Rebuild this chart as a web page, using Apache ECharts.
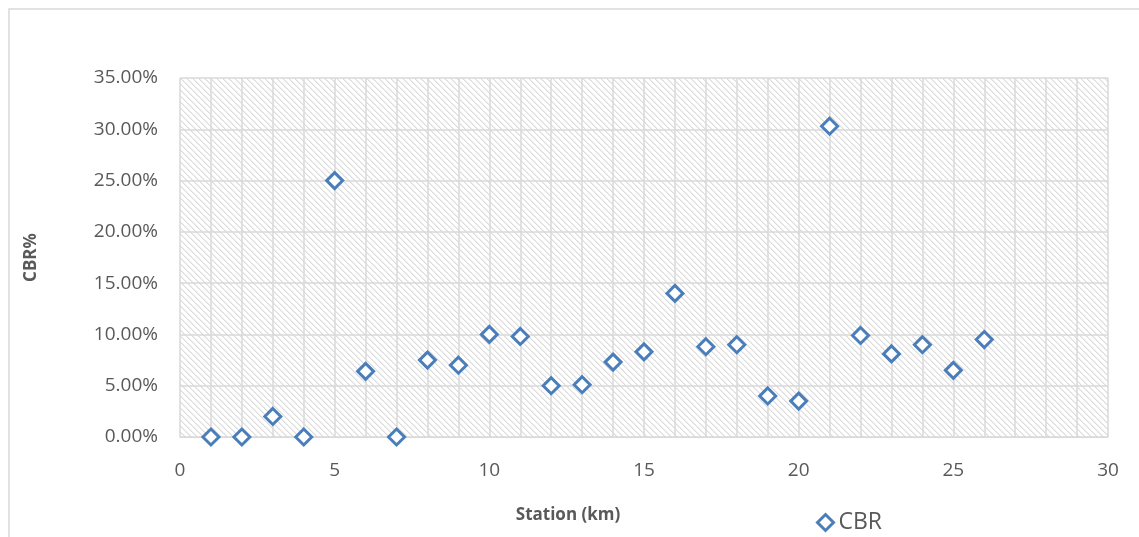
<!DOCTYPE html>
<html>
<head>
<meta charset="utf-8">
<script src="https://cdn.jsdelivr.net/npm/echarts@6/dist/echarts.min.js"></script>
<style>
html,body{margin:0;padding:0;background:#fff;}
#chart{width:1139px;height:537px;}
</style>
</head>
<body>
<div id="chart"></div>
<script>
var stations = [1,2,3,4,5,6,7,8,9,10,11,12,13,14,15,16,17,18,19,20,21,22,23,24,25,26];
var cbrValues = [0,0,2.0,0,25.0,6.4,0,7.5,7.0,10.0,9.8,5.0,5.1,7.3,8.3,14.0,8.8,9.0,4.0,3.5,30.3,9.9,8.1,9.0,6.5,9.5];
var seriesName = 'CBR';
var xTitle = 'Station (km)';
var yTitle = 'CBR%';

function makeHatch(){
  var c = document.createElement('canvas');
  c.width = 6; c.height = 6;
  var ctx = c.getContext('2d');
  ctx.fillStyle = '#ffffff';
  ctx.fillRect(0,0,6,6);
  ctx.fillStyle = '#dcdcdc';
  for (var i = 0; i < 6; i++) {
    ctx.fillRect(i, i, 1, 1);
  }
  ctx.fillStyle = '#ececec';
  for (var j = 0; j < 6; j++) {
    ctx.fillRect((j+1)%6, j, 1, 1);
  }
  return c;
}

var points = stations.map(function(s,i){ return [s, cbrValues[i]]; });

var chart = echarts.init(document.getElementById('chart'), null, {renderer:'canvas'});
var gridColor = '#d9d9d9';
var textColor = '#595959';
var fontFam = '"Open Sans", "Noto Sans", sans-serif';

chart.setOption({
  animation: false,
  backgroundColor: '#ffffff',
  graphic: [{
    type: 'rect',
    shape: {x: 9, y: 9, width: 1200, height: 600},
    style: {fill: 'none', stroke: gridColor, lineWidth: 1.5},
    silent: true,
    z: -10
  }],
  grid: {
    left: 180, right: 31, top: 78, bottom: 100,
    show: true,
    borderWidth: 0,
    backgroundColor: {image: makeHatch(), repeat: 'repeat'}
  },
  legend: {
    data: [seriesName],
    left: 811, top: 506,
    icon: 'diamond',
    itemWidth: 16, itemHeight: 16,
    itemGap: 6,
    itemStyle: {color: '#ffffff', borderColor: '#4a7ebb', borderWidth: 3},
    textStyle: {fontSize: 23, color: textColor, fontFamily: fontFam}
  },
  xAxis: {
    type: 'value',
    min: 0, max: 30, interval: 5,
    name: xTitle,
    nameLocation: 'middle',
    nameGap: 70,
    nameTextStyle: {fontSize: 17, fontWeight: 'bold', color: textColor, fontFamily: fontFam, padding: [0, 152, 0, 0]},
    axisLine: {show: true, lineStyle: {color: gridColor, width: 1}},
    axisTick: {show: false},
    axisLabel: {fontSize: 19, color: textColor, margin: 24, fontFamily: fontFam},
    splitLine: {show: true, lineStyle: {color: gridColor, width: 1.5}},
    minorTick: {show: false, splitNumber: 5},
    minorSplitLine: {show: true, lineStyle: {color: gridColor, width: 1.5}}
  },
  yAxis: {
    type: 'value',
    min: 0, max: 35, interval: 5,
    name: yTitle,
    nameLocation: 'middle',
    nameGap: 140,
    nameRotate: 90,
    nameTextStyle: {fontSize: 17, fontWeight: 'bold', color: textColor, fontFamily: fontFam},
    axisLine: {show: false},
    axisTick: {show: false},
    axisLabel: {fontSize: 19, color: textColor, margin: 22, fontFamily: fontFam,
      formatter: function(v){ return v.toFixed(2) + '%'; }},
    splitLine: {show: true, lineStyle: {color: gridColor, width: 1.5}}
  },
  series: [{
    name: seriesName,
    type: 'scatter',
    data: points,
    symbol: 'diamond',
    symbolSize: 16,
    itemStyle: {color: '#ffffff', borderColor: '#4a7ebb', borderWidth: 3, opacity: 1},
    z: 5
  }]
});
</script>
</body>
</html>
